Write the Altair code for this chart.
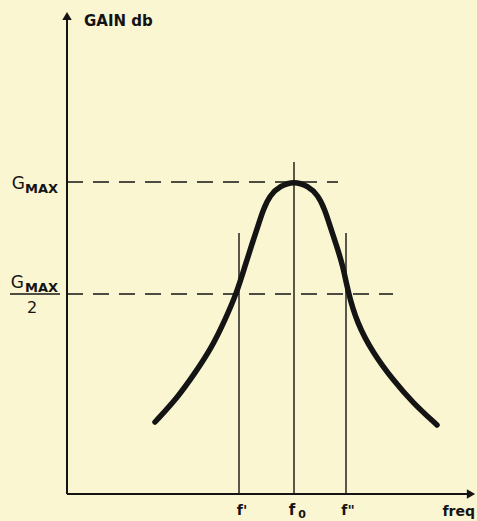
import altair as alt
import pandas as pd

# Resonance curve: gain versus frequency (arbitrary units, origin at the axes corner)
curve_freq = [88, 111, 128, 145, 158, 170, 178, 185, 191, 196, 203, 213, 227,
              241, 251, 258, 263, 269, 276, 281, 290, 306, 326, 346, 370]
curve_gain = [72, 97, 121, 147, 174, 202, 228, 250, 268, 284, 299, 308, 313,
              308, 299, 284, 268, 250, 228, 202, 171, 141, 114, 91, 69]

# Reference levels and frequencies
g_max = 312
g_half = 200
f_lo, f_0, f_hi = 172, 227, 279

# Extents of the construction lines
gmax_line_end = 271
ghalf_line_end = 326
f0_line_top = 332
fside_line_top = 261

# Axis extents
x_axis_end = 404
y_axis_end = 478

X_DOMAIN = [0, 410]
Y_DOMAIN = [0, 494]
INK = "#141414"
BG = "#faf6d1"

xs = alt.Scale(domain=X_DOMAIN, nice=False, zero=False)
ys = alt.Scale(domain=Y_DOMAIN, nice=False, zero=False)
X = lambda f: alt.X(f, type="quantitative", scale=xs, axis=None)
Y = lambda f: alt.Y(f, type="quantitative", scale=ys, axis=None)

curve_df = pd.DataFrame({"freq": curve_freq, "gain": curve_gain})

# Axis lines
axes_df = pd.DataFrame({
    "x": [0, 0], "x2": [x_axis_end, 0],
    "y": [0, 0], "y2": [0, y_axis_end],
})
axes = alt.Chart(axes_df).mark_rule(color=INK, strokeWidth=2).encode(
    x=X("x"), x2="x2", y=Y("y"), y2="y2"
)

arrow_up = alt.Chart(pd.DataFrame({"x": [0], "y": [y_axis_end]})).mark_point(
    shape="triangle-up", filled=True, color=INK, size=90, opacity=1
).encode(x=X("x"), y=Y("y"))
arrow_right = alt.Chart(pd.DataFrame({"x": [x_axis_end], "y": [0]})).mark_point(
    shape="triangle-right", filled=True, color=INK, size=90, opacity=1
).encode(x=X("x"), y=Y("y"))

# Dashed horizontal construction lines at G_MAX and G_MAX/2
hdash_df = pd.DataFrame({"x": [0, 0], "x2": [gmax_line_end, ghalf_line_end], "y": [g_max, g_half]})
hdash = alt.Chart(hdash_df).mark_rule(color=INK, strokeWidth=1.4, strokeDash=[16, 10]).encode(
    x=X("x"), x2="x2", y=Y("y")
)

# Vertical lines at f', f0, f''
vline_df = pd.DataFrame({"x": [f_lo, f_0, f_hi], "y": [0, 0, 0],
                         "y2": [fside_line_top, f0_line_top, fside_line_top]})
vlines = alt.Chart(vline_df).mark_rule(color=INK, strokeWidth=1.4).encode(
    x=X("x"), y=Y("y"), y2="y2"
)

curve = alt.Chart(curve_df).mark_line(
    color=INK, strokeWidth=5.5, interpolate="basis", strokeCap="round"
).encode(x=X("freq"), y=Y("gain"))

FONT = "DejaVu Sans"

def label(x, y, text, size=14, align="left", baseline="alphabetic", dx=0, dy=0, weight="bold"):
    return alt.Chart(pd.DataFrame({"x": [x], "y": [y], "t": [text]})).mark_text(
        font=FONT, fontSize=size, fontWeight=weight, color=INK,
        align=align, baseline=baseline, dx=dx, dy=dy
    ).encode(x=X("x"), y=Y("y"), text="t:N")

texts = [
    label(0, y_axis_end, "GAIN db", size=15, dx=17, dy=10),
    # G_MAX label
    label(0, g_max, "G", size=17, align="right", dx=-42, dy=7, weight="normal"),
    label(0, g_max, "MAX", size=13, align="right", dx=-9, dy=11),
    # G_MAX / 2 label
    label(0, g_half, "G", size=17, align="right", dx=-43, dy=-6, weight="normal"),
    label(0, g_half, "MAX", size=13, align="right", dx=-9, dy=-2),
    label(0, g_half, "2", size=16, align="center", dx=-35, dy=19, weight="normal"),
    # x-axis labels
    label(f_lo, 0, "f'", size=14, align="center", dx=3, dy=21),
    label(f_0, 0, "f", size=15, align="center", dx=-2, dy=21),
    label(f_0, 0, "0", size=11, align="center", dx=8, dy=24),
    label(f_hi, 0, "f\"", size=14, align="center", dx=2, dy=21),
    label(x_axis_end, 0, "freq", size=14, align="right", dx=4, dy=22),
]

fraction_bar = alt.Chart(pd.DataFrame({"x": [0], "y": [g_half]})).mark_rule(
    color=INK, strokeWidth=1.6
).encode(
    x=alt.value(-57), x2=alt.value(-7), y=Y("y")
)

chart = alt.layer(hdash, vlines, axes, arrow_up, arrow_right, curve, fraction_bar, *texts).properties(
    width=410, height=494,
    padding={"left": 67, "top": 0, "right": 0, "bottom": 27},
    autosize=alt.AutoSizeParams(type="none"),
    background=BG,
).configure_view(stroke=None)

chart.save("out.html", embed_options={"renderer": "svg", "actions": False})
